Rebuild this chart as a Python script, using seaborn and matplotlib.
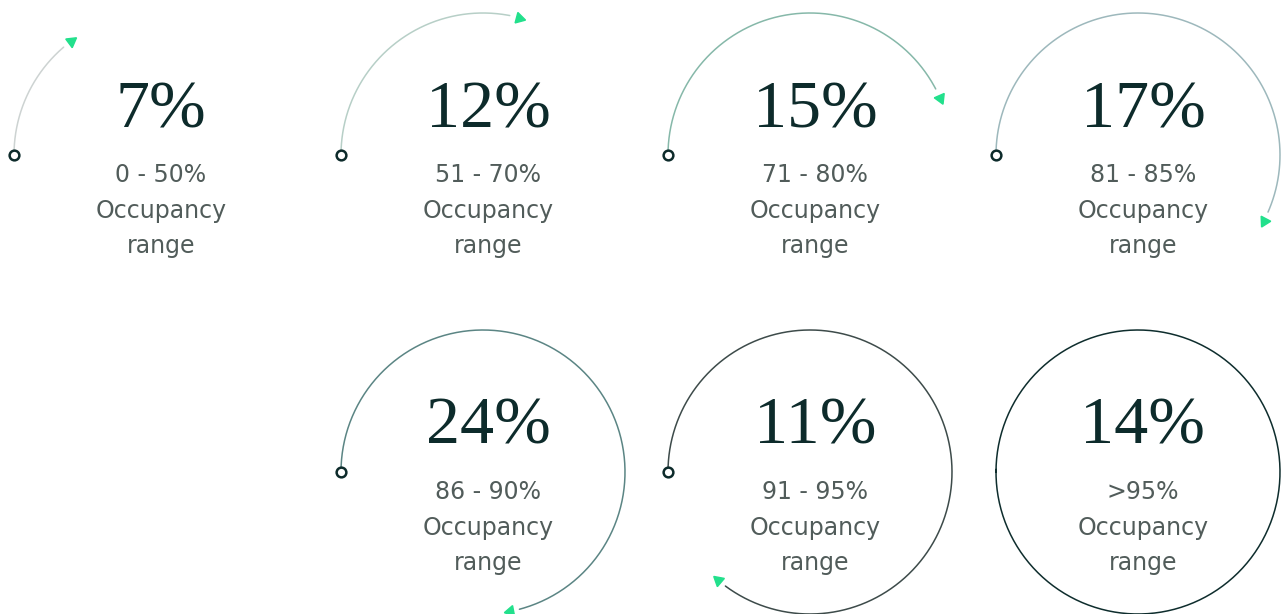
import numpy as np
import pandas as pd
import seaborn as sns
import matplotlib.pyplot as plt

# share of properties in each occupancy band
shares = [7, 12, 15, 17, 24, 11, 14]
ranges = ["0 - 50%", "51 - 70%", "71 - 80%", "81 - 85%", "86 - 90%", "91 - 95%", ">95%"]
caption = ["Occupancy", "range"]

# arc colours get darker band by band
arc_colors = ["#cdd3d2", "#b7cfc7", "#86b8a9", "#9db8bc", "#5b8584", "#3d4b4a", "#0e2d2d"]
arrow_color = "#22e08c"
ink = "#0d2b2b"
grey = "#515c5a"

sns.set_theme(style="white")

fig = plt.figure(figsize=(12.87, 6.14), dpi=100)
ax = fig.add_axes([0, 0, 1, 1])
ax.set_xlim(0, 1287)
ax.set_ylim(614, 0)
ax.set_aspect("equal")
ax.axis("off")

# layout of the cards (pixels)
col_x = [156, 483, 810, 1138]
row_y = [155, 472]
radius = 142
n = len(shares)

for i, (share, rng) in enumerate(zip(shares, ranges)):
    if i < 4:
        cx, cy = col_x[i], row_y[0]
    else:
        cx, cy = col_x[i - 3], row_y[1]

    frac = (i + 1) / n
    end = 360 * frac
    full = frac >= 1
    stop = end + 1 if full else end - 2
    theta = np.radians(np.linspace(0, stop, 400))
    arc = pd.DataFrame({"x": cx - radius * np.cos(theta),
                        "y": cy - radius * np.sin(theta)})
    sns.lineplot(data=arc, x="x", y="y", sort=False, estimator=None,
                 color=arc_colors[i], lw=1.1, ax=ax)

    if not full:
        # hollow start dot
        ax.plot(cx - radius, cy, "o", ms=7, mfc="white", mec=ink, mew=1.8, zorder=5)
        # arrow head pointing along the direction of travel
        a = end + 2
        ar = np.radians(a)
        ax.plot(cx - radius * np.cos(ar), cy - radius * np.sin(ar),
                marker=(3, 0, -a), ms=9, color=arrow_color, mec=arrow_color, zorder=5)

    tx = cx + 5
    ax.text(tx, cy - 28, f"{share}%", ha="center", va="baseline",
            fontsize=49, family="Liberation Serif", color=ink)
    ax.text(tx, cy + 27, rng, ha="center", va="baseline",
            fontsize=17, family="DejaVu Sans", color=grey)
    ax.text(tx, cy + 63, caption[0], ha="center", va="baseline",
            fontsize=17, family="DejaVu Sans", color=grey)
    ax.text(tx, cy + 98, caption[1], ha="center", va="baseline",
            fontsize=17, family="DejaVu Sans", color=grey)

fig.savefig("out.png", dpi=100, facecolor="white")
